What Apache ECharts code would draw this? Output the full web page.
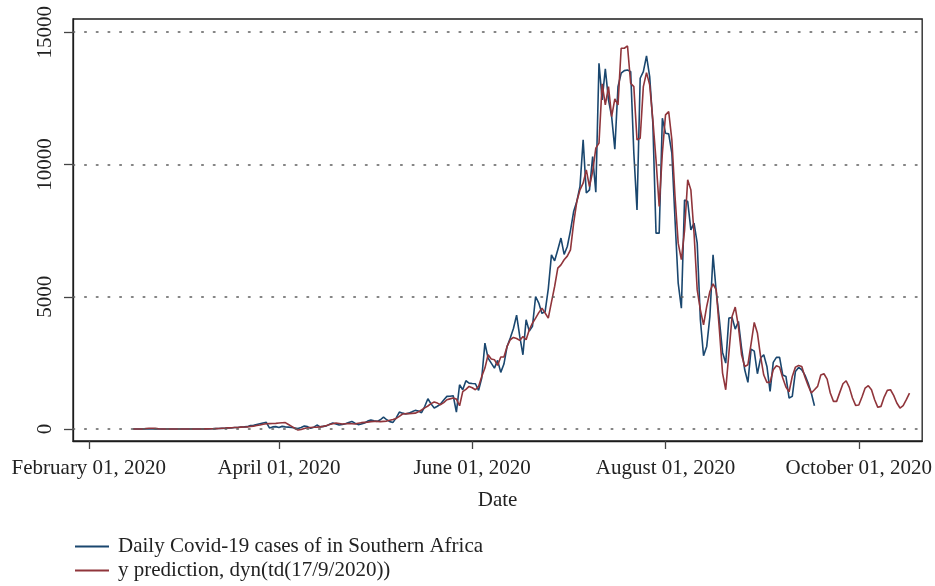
<!DOCTYPE html>
<html>
<head>
<meta charset="utf-8">
<script src="https://cdn.jsdelivr.net/npm/echarts@6/dist/echarts.min.js"></script>
<style>
  html, body { margin: 0; padding: 0; background: #ffffff; }
  #chart { width: 935px; height: 586px; }
</style>
</head>
<body>
<div id="chart"></div>
<script>
// First day of both daily series (one value per day from here on)
const firstDay = '2020-02-15';

// Reported daily cases, 15 Feb 2020 .. 17 Sep 2020
const dailyCases = [
  0,0,0,0,0,0,0,0,0,0,0,0,0,0,0,0,0,0,0,
  1,0,2,3,6,4,10,14,17,25,30,45,40,55,60,75,80,90,
  130,140,170,200,230,250,40,80,90,60,100,80,70,60,40,20,60,110,90,30,70,150,
  80,100,120,180,227,190,150,170,200,250,288,220,166,190,227,300,340,310,288,350,453,350,280,250,420,642,600,567,600,650,704,680,
  617,850,1145,950,793,860,944,1100,1233,1240,1258,642,1674,1484,1825,1736,1720,1711,1460,1927,3249,2682,2493,2304,2594,2140,2456,3122,3438,3800,4307,3500,2807,4129,3700,
  3880,5010,4760,4370,4440,5300,6585,6358,6780,7220,6600,6900,7500,8220,8600,9170,10930,8920,9040,
  10300,8954,13827,12441,13612,12441,11810,10578,12944,13450,13548,13573,13510,10427,8285,13260,13510,14103,13322,11561,7405,7405,11750,11183,11158,10427,7908,
  5516,4571,8660,8600,7530,7782,7027,4129,2769,3122,4255,6585,5199,4129,2895,2493,4193,4219,3778,4066,3060,2240,1762,3023,2945,2089,2682,2808,2366,1422,2518,2708,2708,2040,1989,1171,1233,2178,2329,2240,2040,1737,1360,881
];

// Model prediction, dynamic from 17 Sep 2020, 15 Feb 2020 .. 17 Oct 2020
const predicted = [
  0,0,0,0,
  20,30,30,25,10,
  0,0,0,0,0,0,0,0,0,0,0,0,0,
  2,5,8,10,15,20,28,35,45,50,55,60,70,75,80,
  95,110,130,150,180,200,205,210,215,225,235,240,170,100,30,-40,-20,20,50,60,65,70,
  80,100,130,170,200,227,210,190,200,210,200,190,220,240,250,260,280,290,290,280,290,300,330,360,402,480,567,580,580,590,600,650,
  720,800,870,960,1020,980,920,1000,1107,1140,1170,1130,880,1416,1500,1611,1560,1485,1611,1989,2304,2807,2645,2620,2403,2720,2720,3122,3374,3462,3420,3350,3500,3374,3752,
  4000,4192,4400,4570,4385,4192,4800,5388,6082,6207,6400,6535,
  6774,7782,8600,9041,9293,9797,9167,9734,10616,10805,13046,12253,12944,11810,12479,12253,14394,14394,14481,13071,12944,10930,10993,12944,13473,13008,11687,10175,8411,10427,11876,12000,10930,8788,
  7027,6400,7500,9420,9040,7400,5260,4507,3940,4633,5199,5490,5263,3752,2115,1485,2871,4255,4609,3878,2807,2366,2430,3223,4028,3627,2744,2040,1762,1762,2240,2392,2340,1927,1586,1410,1989,2340,2400,2366,1964,1649,1360,1485,
  1611,2040,2090,1888,1360,1045,1045,1385,1712,1825,1574,1171,894,906,1208,1548,1637,1485,1108,819,856,1208,1460,1485,1271,982,793,881,1108,1360
];

// Axis ticks
const dateTicks = ['2020-02-01', '2020-04-01', '2020-06-01', '2020-08-01', '2020-10-01'];
const caseTicks = [0, 5000, 10000, 15000];
const xRange = ['2020-01-27', '2020-10-21'];
const yRange = [-453, 15500];

const seriesNames = [
  'Daily Covid-19 cases of in Southern Africa',
  'y prediction, dyn(td(17/9/2020))'
];
const monthNames = ['January', 'February', 'March', 'April', 'May', 'June',
  'July', 'August', 'September', 'October', 'November', 'December'];

const DAY_MS = 86400000;
const utc = s => Date.parse(s + 'T00:00:00Z');
const start = utc(firstDay);
const toPairs = values => values.map((v, i) => [start + i * DAY_MS, v]);
const tickTimes = dateTicks.map(utc);
const formatDate = ms => {
  const d = new Date(ms);
  return monthNames[d.getUTCMonth()] + ' ' + String(d.getUTCDate()).padStart(2, '0') + ', ' + d.getUTCFullYear();
};

const FONT = 'Liberation Serif';
const FONT_SIZE = 21;
const TEXT = '#222222';
const FRAME = '#1c1c1c';
const COLORS = ['#1a476f', '#90353b'];

// one legend block per series, stacked under the plot
const legendRow = (name, top) => ({
  orient: 'vertical',
  left: 70,
  top: top,
  itemWidth: 34,
  itemHeight: 1.8,
  icon: 'rect',
  textStyle: { fontFamily: FONT, fontSize: FONT_SIZE, color: TEXT, padding: [0, 0, 0, 4] },
  data: [name]
});

const chart = echarts.init(document.getElementById('chart'), null, { renderer: 'canvas' });
chart.setOption({
  animation: false,
  backgroundColor: '#ffffff',
  textStyle: { fontFamily: FONT, color: TEXT },
  grid: {
    left: 73, right: 10, top: 19, bottom: 145,
    show: true, borderColor: FRAME, borderWidth: 1.3, backgroundColor: 'transparent'
  },
  xAxis: {
    // dates as UTC milliseconds on a linear scale
    type: 'value',
    min: utc(xRange[0]),
    max: utc(xRange[1]),
    name: 'Date',
    nameLocation: 'middle',
    nameGap: 49,
    nameTextStyle: { fontFamily: FONT, fontSize: FONT_SIZE, color: TEXT },
    axisLine: { show: true, onZero: false, lineStyle: { color: FRAME, width: 1.3 } },
    axisTick: { show: true, customValues: tickTimes, length: 8, lineStyle: { color: '#444', width: 1.3 } },
    axisLabel: { customValues: tickTimes, formatter: formatDate, fontFamily: FONT, fontSize: FONT_SIZE, color: TEXT, margin: 17, hideOverlap: false },
    splitLine: { show: false }
  },
  yAxis: {
    type: 'value',
    min: yRange[0],
    max: yRange[1],
    axisLine: { show: true, onZero: false, lineStyle: { color: FRAME, width: 1.3 } },
    axisTick: { show: true, customValues: caseTicks, length: 9, lineStyle: { color: '#444', width: 1.3 } },
    axisLabel: { customValues: caseTicks, formatter: v => String(v), rotate: 90, fontFamily: FONT, fontSize: FONT_SIZE, color: TEXT, margin: 17 },
    splitLine: { show: false }
  },
  legend: [legendRow(seriesNames[0], 531), legendRow(seriesNames[1], 555)],
  series: [
    {
      name: seriesNames[0],
      type: 'line',
      data: toPairs(dailyCases),
      showSymbol: false,
      symbol: 'none',
      color: COLORS[0],
      lineStyle: { width: 1.6, color: COLORS[0] },
      markLine: {
        silent: true,
        symbol: 'none',
        label: { show: false },
        lineStyle: { type: [1.6, 10.1], color: '#5e5e5e', width: 1.5, cap: 'round' },
        data: caseTicks.map(v => ({ yAxis: v }))
      },
      z: 2
    },
    {
      name: seriesNames[1],
      type: 'line',
      data: toPairs(predicted),
      showSymbol: false,
      symbol: 'none',
      color: COLORS[1],
      lineStyle: { width: 1.6, color: COLORS[1] },
      z: 3
    }
  ]
});
</script>
</body>
</html>
